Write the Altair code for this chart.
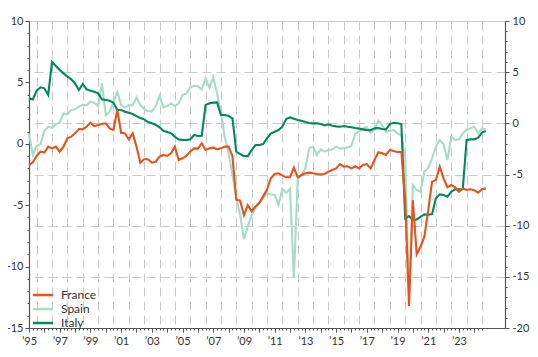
import altair as alt
import pandas as pd

# ---------------- data ----------------
series_names = ["France", "Spain", "Italy"]
series_colors = ["#e8521b", "#a9dbc6", "#008a5c"]

start_year = 1995          # first quarter of the series (quarterly data)

# France (left axis)
france = [
    -1.73, -1.51, -0.99, -0.64, -0.72, -0.23, -0.37, -0.23, -0.64, -0.23,
    0.45, 0.58, 0.85, 1.20, 1.18, 1.39, 1.72, 1.45, 1.53, 1.61,
    1.67, 1.26, 1.12, 2.75, 0.90, 0.85, 0.37, 0.85, -0.23, -1.54,
    -1.26, -1.26, -1.54, -1.46, -1.05, -0.91, -0.99, -0.77, -0.23, -1.32,
    -1.18, -0.99, -0.64, -0.37, -0.39, 0.04, -0.50, -0.37, -0.31, -0.45,
    -0.37, -0.23, -0.23, -1.00, -4.55, -4.63, -5.80, -5.00, -5.50, -5.10,
    -4.80, -4.28, -3.73, -2.80, -2.46, -2.40, -2.57, -2.73, -2.73, -1.94,
    -2.73, -2.54, -2.40, -2.35, -2.40, -2.46, -2.49, -2.46, -2.27, -2.13,
    -2.00, -1.65, -1.86, -1.83, -2.00, -1.83, -2.00, -1.73, -1.65, -2.00,
    -1.32, -0.69, -0.77, -0.91, -0.50, -0.59, -0.67, -0.67, -4.58, -13.20,
    -4.60, -9.00, -8.38, -7.56, -5.39, -3.08, -2.95, -1.86, -2.81, -3.54,
    -3.36, -3.54, -3.90, -3.63, -3.76, -3.70, -3.79, -3.98, -3.70, -3.63,
]

# Spain (right axis)
spain = [
    -0.98, -3.10, -2.22, -2.02, -0.72, -0.33, -0.43, -0.07, 0.06, 0.97,
    0.88, 1.30, 1.37, 1.63, 1.82, 1.76, 2.12, 2.02, 1.69, 3.90,
    0.81, 1.14, 2.12, 3.06, 1.79, 1.56, 1.79, 1.76, 2.54, 1.79,
    1.37, 1.20, 1.14, 1.69, 2.70, 1.56, 1.69, 1.95, 1.69, 1.95,
    2.77, 2.93, 3.52, 3.65, 3.65, 3.30, 4.40, 3.48, 4.50, 2.93,
    0.97, -1.31, -2.94, -5.05, -7.30, -8.93, -11.30, -10.07, -8.99, -8.28,
    -7.79, -7.30, -6.81, -6.95, -6.98, -7.95, -6.39, -6.81, -6.39, -15.10,
    -5.50, -5.05, -4.40, -2.45, -2.28, -3.10, -2.54, -2.77, -2.61, -2.54,
    -2.28, -2.45, -2.45, -2.35, -2.22, -0.98, -0.82, -0.49, -0.39, -0.92,
    -0.66, 0.26, -0.17, -0.82, -0.72, -0.66, -0.98, -1.14, -3.42, -16.60,
    -6.03, -6.52, -6.68, -4.73, -4.34, -3.42, -2.28, -1.63, -2.02, -3.60,
    -1.30, -1.63, -1.57, -0.98, -0.60, -0.49, -0.33, -0.98, -0.49, -0.59,
]

# Italy (right axis)
italy = [
    2.44, 2.34, 3.19, 3.52, 3.42, 2.77, 6.00, 5.60, 5.21, 4.88,
    4.56, 4.30, 3.90, 3.26, 3.84, 3.32, 3.19, 3.09, 2.93, 2.34,
    2.28, 2.21, 2.02, 1.30, 1.30, 1.14, 1.04, 0.91, 0.71, 0.52,
    0.39, 0.13, 0.00, -0.13, -0.39, -0.72, -0.85, -0.98, -1.31, -1.57,
    -1.63, -1.63, -1.57, -1.14, -1.24, -1.21, 1.79, 1.95, 2.02, 2.05,
    0.81, 0.81, 0.71, 0.49, -2.77, -3.00, -3.20, -3.20, -2.61, -2.12,
    -2.12, -2.02, -1.47, -1.00, -0.82, -0.66, -0.33, 0.42, 0.58, 0.45,
    0.32, 0.26, 0.13, 0.03, 0.00, 0.00, -0.07, -0.20, -0.10, -0.23,
    -0.30, -0.33, -0.26, -0.33, -0.39, -0.46, -0.52, -0.59, -0.66, -0.66,
    -0.49, -0.46, -0.56, -0.59, -0.07, 0.06, 0.00, -0.07, -9.29, -9.06,
    -9.45, -9.39, -9.13, -8.90, -8.93, -8.87, -7.33, -6.94, -7.01, -7.17,
    -6.68, -6.45, -6.45, -6.42, -1.63, -1.57, -1.57, -1.40, -0.91, -0.75,
]

left_domain = [-15, 10]
right_domain = [-20, 10]
x_domain = [1995, 2026]

# ---------------- build table ----------------
periods = [start_year + q / 4 for q in range(len(france))]


def frame(name, values):
    return pd.DataFrame({"period": periods, "value": values, "series": name})


df_fr = frame("France", france)
df_es = frame("Spain", spain)
df_it = frame("Italy", italy)

FONT = "Lato"
AXIS_COL = "#555555"
GRID_COL = "#c9c9c9"
TEXT_COL = "#333333"
LINE_W = 2.1

x_tick_values = [1995 + q / 4 for q in range(0, 119)]

x_enc = alt.X(
    "period:Q",
    scale=alt.Scale(domain=x_domain, nice=False, zero=False),
    axis=alt.Axis(
        title=None,
        values=x_tick_values,
        labelExpr="(datum.value % 2 === 1) ? '\u2019' + substring(toString(datum.value), 2, 4) : ''",
        labelOverlap=False,
        labelFlush=False,
        labelPadding=3,
        tickSize={"condition": {"test": "datum.value % 1 === 0", "value": 4}, "value": 2},
        grid=True,
        gridOpacity={"condition": {"test": "datum.value % 1 === 0.5", "value": 1}, "value": 0},
        gridDash=[9, 5],
        gridColor=GRID_COL,
        domainColor=AXIS_COL,
        tickColor=AXIS_COL,
    ),
)

color_enc = alt.Color(
    "series:N",
    scale=alt.Scale(domain=series_names, range=series_colors),
    legend=alt.Legend(
        title=None,
        orient="none",
        legendX=6,
        legendY=266,
        symbolType="M-1.5,0H1.5",
        symbolSize=180,
        symbolStrokeWidth=2.5,
        labelFontSize=12,
        labelFont=FONT,
        labelColor=TEXT_COL,
        rowPadding=0,
        labelOffset=10,
    ),
)

ytick_size = {"condition": {"test": "datum.value % 5 === 0", "value": 4}, "value": 2}
ylabel_expr = "datum.value % 5 === 0 ? toString(datum.value) : ''"

spain_layer = alt.Chart(df_es).mark_line(strokeWidth=LINE_W).encode(
    x=x_enc,
    y=alt.Y(
        "value:Q",
        scale=alt.Scale(domain=right_domain, nice=False, zero=False),
        axis=alt.Axis(
            title=None,
            orient="right",
            values=list(range(right_domain[0], right_domain[1] + 1)),
            labelExpr=ylabel_expr,
            labelOverlap=False,
            labelPadding=3,
            tickSize=ytick_size,
            grid=True,
            gridOpacity={"condition": {"test": "datum.value % 5 === 0", "value": 1}, "value": 0},
            gridDash={"condition": {"test": "datum.value === 10", "value": []}, "value": [9, 5]},
            gridColor=GRID_COL,
            domainColor=AXIS_COL,
            tickColor=AXIS_COL,
        ),
    ),
    color=color_enc,
)

italy_layer = alt.Chart(df_it).mark_line(strokeWidth=LINE_W).encode(
    x=x_enc,
    y=alt.Y(
        "value:Q",
        scale=alt.Scale(domain=right_domain, nice=False, zero=False),
        axis=None,
    ),
    color=color_enc,
)

france_layer = alt.Chart(df_fr).mark_line(strokeWidth=LINE_W).encode(
    x=x_enc,
    y=alt.Y(
        "value:Q",
        scale=alt.Scale(domain=left_domain, nice=False, zero=False),
        axis=alt.Axis(
            title=None,
            orient="left",
            values=list(range(left_domain[0], left_domain[1] + 1)),
            labelExpr=ylabel_expr,
            labelOverlap=False,
            labelPadding=2,
            tickSize=ytick_size,
            grid=False,
            domainColor=AXIS_COL,
            tickColor=AXIS_COL,
        ),
    ),
    color=color_enc,
)

chart = (
    alt.layer(spain_layer, italy_layer, france_layer)
    .resolve_scale(y="independent")
    .properties(
        width=476,
        height=307,
        autosize=alt.AutoSizeParams(type="none"),
        padding={"left": 21, "top": 13, "right": 25, "bottom": 20},
    )
    .configure_view(stroke=None)
    .configure_axis(
        labelFont=FONT,
        labelFontSize=11,
        labelColor=TEXT_COL,
        domainWidth=1.2,
        tickWidth=1,
    )
)

chart.save("out.html", embed_options={"renderer": "svg", "actions": False})
